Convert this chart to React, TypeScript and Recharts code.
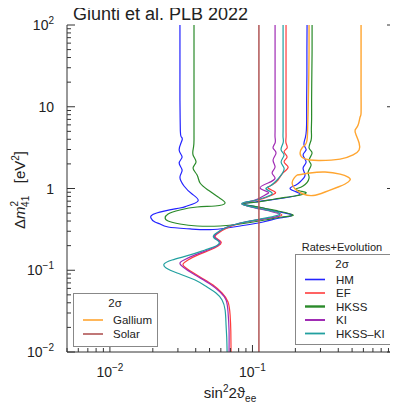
import React from 'react';
import { LineChart, Line, XAxis, YAxis } from 'recharts';

type Pt = { s: number; dm: number };
const toPts = (a: number[][]): Pt[] => a.map(([s, dm]) => ({ s, dm }));

// [sin^2 2theta_ee, Delta m^2_41]
const hmCurve = [
  [0.031, 100], [0.031, 50], [0.031, 25], [0.031, 12], [0.0311, 7], [0.0312, 5], [0.0316, 4.3], [0.0321, 3.92],
  [0.0306, 2.96], [0.0321, 2.43], [0.0306, 2.05],
  [0.0321, 1.68], [0.031, 1.38], [0.0331, 1.073], [0.0377, 0.856], [0.0415, 0.703], [0.0348, 0.611], [0.031, 0.577],
  [0.0213, 0.502], [0.0194, 0.436], [0.0207, 0.389], [0.0225, 0.368], [0.0256, 0.338], [0.0365, 0.32], [0.0529, 0.315],
  [0.0819, 0.348], [0.1187, 0.389], [0.156, 0.436], [0.19, 0.474], [0.144, 0.531], [0.1095, 0.594], [0.0859, 0.646],
  [0.104, 0.684], [0.133, 0.723], [0.184, 0.787], [0.216, 0.856], [0.196, 0.932], [0.184, 1.014], [0.202, 1.104],
  [0.219, 1.235], [0.234, 1.46], [0.2265, 1.78], [0.238, 2.11], [0.2265, 2.57], [0.238, 2.96], [0.23, 3.41],
  [0.235, 4.2], [0.239, 5.19], [0.24, 7], [0.24, 12], [0.241, 25], [0.241, 50], [0.2416, 100],
];
const hkssCurve = [
  [0.0389, 100], [0.0389, 50], [0.0389, 25], [0.0389, 12], [0.0389, 7], [0.0389, 5], [0.0389, 3.92], [0.0386, 3.2],
  [0.0383, 2.57], [0.0402, 2.11], [0.0383, 1.78], [0.0409, 1.46],
  [0.0429, 1.168], [0.0488, 0.959], [0.0574, 0.787], [0.0643, 0.665], [0.0547, 0.611], [0.0409, 0.594], [0.031, 0.546],
  [0.0256, 0.488], [0.0244, 0.436], [0.0256, 0.4], [0.031, 0.368], [0.0409, 0.348], [0.0593, 0.348], [0.0819, 0.368],
  [0.1226, 0.412], [0.161, 0.448], [0.193, 0.474], [0.151, 0.531], [0.1095, 0.594], [0.0859, 0.646], [0.1095, 0.684],
  [0.144, 0.744], [0.199, 0.81], [0.238, 0.881], [0.216, 0.932], [0.202, 0.986], [0.2265, 1.073], [0.2495, 1.34],
  [0.2456, 1.59], [0.258, 1.94], [0.2495, 2.23], [0.262, 2.72], [0.2495, 3.13], [0.258, 3.92], [0.259, 5], [0.26, 7],
  [0.26, 12], [0.261, 25], [0.262, 50], [0.262, 100],
];
const kiCurve = [
  [0.1441, 100], [0.1441, 50], [0.1441, 25], [0.1441, 12], [0.1441, 7], [0.1441, 5], [0.1441, 4.2], [0.1441, 3.6],
  [0.1395, 3.13], [0.1464, 2.72], [0.1395, 2.23], [0.1441, 1.83], [0.1373, 1.55],
  [0.1441, 1.34], [0.1287, 1.168], [0.1131, 1.014], [0.1287, 0.906], [0.1226, 0.833], [0.1043, 0.723], [0.0845, 0.646],
  [0.1131, 0.561], [0.156, 0.474], [0.1168, 0.423], [0.0819, 0.378], [0.0643, 0.329], [0.0555, 0.278], [0.0547, 0.248],
  [0.0593, 0.222], [0.0564, 0.198], [0.0488, 0.177], [0.0396, 0.154], [0.0331, 0.1335], [0.031, 0.1227], [0.0326, 0.1096],
  [0.0396, 0.0875], [0.0504, 0.0679], [0.0593, 0.0542], [0.0653, 0.0433], [0.0674, 0.0309], [0.0685, 0.0186], [0.0685, 0.01],
];
const efCurve = [
  [0.172, 100], [0.172, 50], [0.172, 25], [0.172, 12], [0.172, 7], [0.172, 5], [0.172, 4.2], [0.172, 3.6],
  [0.175, 3.13], [0.1666, 2.8], [0.175, 2.43], [0.1666, 2.11], [0.178, 1.83], [0.164, 1.55],
  [0.151, 1.27], [0.137, 1.104], [0.1287, 1.014], [0.1441, 0.906], [0.137, 0.833], [0.1095, 0.723], [0.0845, 0.646],
  [0.117, 0.561], [0.161, 0.474], [0.119, 0.423], [0.0845, 0.378], [0.0664, 0.329], [0.0564, 0.278], [0.0555, 0.248],
  [0.0603, 0.222], [0.0574, 0.198], [0.0504, 0.177], [0.0415, 0.154], [0.0353, 0.1335], [0.0326, 0.1193], [0.0342, 0.1065],
  [0.0429, 0.0827], [0.0529, 0.066], [0.0612, 0.0527], [0.0674, 0.0409], [0.0697, 0.0283], [0.0705, 0.018], [0.0708, 0.01],
];
const hkssKiCurve = [
  [0.164, 100], [0.164, 50], [0.164, 25], [0.164, 12], [0.164, 7], [0.164, 5], [0.164, 4.2], [0.164, 3.6],
  [0.1588, 2.96], [0.1666, 2.57], [0.1588, 2.11], [0.1666, 1.78], [0.1588, 1.46],
  [0.1464, 1.235], [0.1329, 1.073], [0.1246, 0.986], [0.1373, 0.881], [0.1246, 0.787], [0.0994, 0.703], [0.0845, 0.646],
  [0.117, 0.561], [0.156, 0.488], [0.1131, 0.423], [0.0819, 0.378], [0.0643, 0.329], [0.0547, 0.278], [0.0538, 0.248],
  [0.0583, 0.222], [0.0555, 0.198], [0.0465, 0.177], [0.0365, 0.154], [0.0273, 0.1335], [0.024, 0.1193], [0.0248, 0.1065],
  [0.0296, 0.0926], [0.0396, 0.076], [0.048, 0.0624], [0.0555, 0.0527], [0.0612, 0.0433], [0.0643, 0.0326],
  [0.0653, 0.0214], [0.066, 0.015], [0.0664, 0.01],
];
const galliumUpper = [
  [0.2495, 100], [0.2495, 50], [0.2485, 25], [0.247, 14], [0.2456, 8.39], [0.244, 5.5], [0.2416, 3.92], [0.234, 3.41],
  [0.2229, 3.13], [0.2158, 2.72], [0.2265, 2.36],
  [0.2537, 2.23], [0.2981, 2.2], [0.4119, 2.29], [0.5082, 2.57], [0.56, 2.96], [0.56, 3.6], [0.5335, 4.51],
  [0.525, 5.19], [0.551, 5.98], [0.569, 7.49], [0.578, 8.39], [0.578, 14], [0.578, 25], [0.578, 50], [0.578, 100],
];
const galliumLower = [
  [0.2056, 1.46], [0.2537, 1.55], [0.3232, 1.59], [0.4119, 1.5], [0.4689, 1.38], [0.4842, 1.27], [0.4466, 1.135],
  [0.399, 1.043], [0.3232, 0.906], [0.2662, 0.82], [0.2265, 0.856], [0.1991, 0.986], [0.1897, 1.168], [0.1959, 1.34],
  [0.2056, 1.46],
];
const solarLine = [[0.111, 0.01], [0.111, 100]];

const xTickValues = [0.005, 0.006, 0.007, 0.008, 0.009, 0.01, 0.02, 0.03, 0.04, 0.05, 0.06, 0.07, 0.08, 0.09,
  0.1, 0.2, 0.3, 0.4, 0.5, 0.6, 0.7, 0.8, 0.9, 1];
const yTickValues = [0.01, 0.02, 0.03, 0.04, 0.05, 0.06, 0.07, 0.08, 0.09, 0.1, 0.2, 0.3, 0.4, 0.5, 0.6, 0.7, 0.8, 0.9,
  1, 2, 3, 4, 5, 6, 7, 8, 9, 10, 20, 30, 40, 50, 60, 70, 80, 90, 100];
const xMajorTicks = [0.01, 0.1, 1];
const xMajorLabels = [['10', '−2'], ['10', '−1'], ['1', '']];
const yMajorTicks = [0.01, 0.1, 1, 10, 100];
const yMajorLabels = [['10', '−2'], ['10', '−1'], ['1', ''], ['10', ''], ['10', '2']];

const COL = {
  hm: '#2323ff', ef: '#ff3b3b', hkss: '#2a8a2a', ki: '#a02cb4', hkssKi: '#22a0a0', gallium: '#ffa530', solar: '#b05555',
};
const AXIS = '#333';
const FONT = '"Liberation Sans", Arial, sans-serif';

const majorIndex = (v: number, majors: number[]) =>
  majors.findIndex((m) => Math.abs(Math.log10(v) - Math.log10(m)) < 1e-6);

const BottomTick = (props: any) => {
  const { x, y, payload } = props;
  const i = majorIndex(payload.value, xMajorTicks);
  const len = i >= 0 ? 7 : 4;
  return (
    <g>
      <line x1={x} y1={y} x2={x} y2={y - len} stroke={AXIS} strokeWidth={1} />
      {i >= 0 && (
        <text x={x} y={y + 25} textAnchor="middle" fontSize={14} fill="#222" fontFamily={FONT}>
          {xMajorLabels[i][0]}
          {xMajorLabels[i][1] && <tspan dy={-6} fontSize={10}>{xMajorLabels[i][1]}</tspan>}
        </text>
      )}
    </g>
  );
};
const TopTick = (props: any) => {
  const { x, y, payload } = props;
  const len = majorIndex(payload.value, xMajorTicks) >= 0 ? 7 : 4;
  return <line x1={x} y1={y} x2={x} y2={y + len} stroke={AXIS} strokeWidth={1} />;
};
const LeftTick = (props: any) => {
  const { x, y, payload } = props;
  const i = majorIndex(payload.value, yMajorTicks);
  const len = i >= 0 ? 8 : 4;
  return (
    <g>
      <line x1={x} y1={y} x2={x + len} y2={y} stroke={AXIS} strokeWidth={1} />
      {i >= 0 && (
        <text x={x - 13} y={y + 5} textAnchor="end" fontSize={14} fill="#222" fontFamily={FONT}>
          {yMajorLabels[i][0]}
          {yMajorLabels[i][1] && <tspan dy={-6} fontSize={10}>{yMajorLabels[i][1]}</tspan>}
        </text>
      )}
    </g>
  );
};
const RightTick = (props: any) => {
  const { x, y, payload } = props;
  const len = majorIndex(payload.value, yMajorTicks) >= 0 ? 8 : 4;
  return <line x1={x} y1={y} x2={x - len} y2={y} stroke={AXIS} strokeWidth={1} />;
};

const series = [
  { key: 'hm', data: toPts(hmCurve), color: COL.hm, w: 1.2, curve: 'natural' },
  { key: 'ef', data: toPts(efCurve), color: COL.ef, w: 1.2, curve: 'natural' },
  { key: 'hkss', data: toPts(hkssCurve), color: COL.hkss, w: 1.2, curve: 'natural' },
  { key: 'ki', data: toPts(kiCurve), color: COL.ki, w: 1.2, curve: 'natural' },
  { key: 'hkssKi', data: toPts(hkssKiCurve), color: COL.hkssKi, w: 1.2, curve: 'natural' },
  { key: 'galU', data: toPts(galliumUpper), color: COL.gallium, w: 1.4, curve: 'natural' },
  { key: 'galL', data: toPts(galliumLower), color: COL.gallium, w: 1.4, curve: 'natural' },
  { key: 'solar', data: toPts(solarLine), color: COL.solar, w: 1.5, curve: 'linear' },
];

const legendRates = [
  { label: 'HM', color: COL.hm, w: 1.6 },
  { label: 'EF', color: COL.ef, w: 1.6 },
  { label: 'HKSS', color: COL.hkss, w: 2.4 },
  { label: 'KI', color: COL.ki, w: 2 },
  { label: 'HKSS–KI', color: COL.hkssKi, w: 1.8 },
];
const legendOther = [
  { label: 'Gallium', color: COL.gallium },
  { label: 'Solar', color: COL.solar },
];

export default function App() {
  return (
    <div style={{ position: 'relative', width: 390, height: 396, fontFamily: FONT }}>
      <LineChart width={390} height={396} margin={{ top: 17, right: 0, bottom: 0, left: 0 }}>
        <XAxis xAxisId="b" type="number" dataKey="s" scale="log" domain={[0.005, 1]} allowDataOverflow
          orientation="bottom" height={52} ticks={xTickValues} interval={0} tickSize={0} tickMargin={0}
          tickLine={false} tick={<BottomTick />} axisLine={{ stroke: AXIS }} />
        <XAxis xAxisId="t" type="number" dataKey="s" scale="log" domain={[0.005, 1]} allowDataOverflow
          orientation="top" height={0} ticks={xTickValues} interval={0} tickSize={0} tickMargin={0}
          tickLine={false} tick={<TopTick />} axisLine={{ stroke: AXIS }} />
        <YAxis yAxisId="l" type="number" dataKey="dm" scale="log" domain={[0.01, 100]} allowDataOverflow
          orientation="left" width={59} ticks={yTickValues} interval={0} tickSize={0} tickMargin={0}
          tickLine={false} tick={<LeftTick />} axisLine={{ stroke: AXIS }} />
        <YAxis yAxisId="r" type="number" dataKey="dm" scale="log" domain={[0.01, 100]} allowDataOverflow
          orientation="right" width={3} ticks={yTickValues} interval={0} tickSize={0} tickMargin={0}
          tickLine={false} tick={<RightTick />} axisLine={{ stroke: AXIS }} />
        {series.map((sr) => (
          <Line key={sr.key} xAxisId="b" yAxisId="l" data={sr.data} dataKey="dm" type={sr.curve as any}
            stroke={sr.color} strokeWidth={sr.w} dot={false} activeDot={false} isAnimationActive={false} />
        ))}
        <Line xAxisId="t" yAxisId="r" data={toPts(solarLine)} dataKey="dm" stroke="none" dot={false}
          activeDot={false} isAnimationActive={false} />
      </LineChart>
      <svg width={398} height={404} style={{ position: 'absolute', left: -8, top: -8, pointerEvents: 'none', overflow: 'visible' }}
        fontFamily={FONT}>
        <g fill="#222">
          <text x={73} y={20} fontSize={18}>Giunti et al. PLB 2022</text>
          <text transform="translate(25,190) rotate(-90)" textAnchor="middle" fontSize={15}>
            <tspan>Δ</tspan>
            <tspan fontStyle="italic">m</tspan>
            <tspan dy={-7} fontSize={10}>2</tspan>
            <tspan dx={-6} dy={11} fontSize={10}>41</tspan>
            <tspan dy={-4}>{'\u00a0\u00a0\u00a0[eV'}</tspan>
            <tspan dy={-6} fontSize={10}>2</tspan>
            <tspan dy={6}>]</tspan>
          </text>
          <text x={230} y={398} textAnchor="middle" fontSize={15}>
            <tspan>sin</tspan>
            <tspan dy={-6} fontSize={10}>2</tspan>
            <tspan dy={6}>2ϑ</tspan>
            <tspan dy={4} fontSize={10}>ee</tspan>
          </text>

          <rect x={73.5} y={293.5} width={84} height={53} fill="#fff" stroke="#888" strokeWidth={1} />
          <text x={115} y={307} textAnchor="middle" fontSize={11.5}>2σ</text>
          {legendOther.map((e, i) => (
            <g key={e.label}>
              <line x1={83} x2={103} y1={320 + i * 14} y2={320 + i * 14} stroke={e.color} strokeWidth={1.6} />
              <text x={113} y={324 + i * 14} fontSize={11.5}>{e.label}</text>
            </g>
          ))}

          <text x={342} y={251} textAnchor="middle" fontSize={11}>Rates+Evolution</text>
          <rect x={295.5} y={254.5} width={96} height={90} fill="#fff" stroke="#888" strokeWidth={1} />
          <text x={342} y={268} textAnchor="middle" fontSize={11.5}>2σ</text>
          {legendRates.map((e, i) => (
            <g key={e.label}>
              <line x1={305} x2={325} y1={279.5 + i * 13.5} y2={279.5 + i * 13.5} stroke={e.color} strokeWidth={e.w} />
              <text x={336} y={283.5 + i * 13.5} fontSize={11.5}>{e.label}</text>
            </g>
          ))}
        </g>
      </svg>
    </div>
  );
}
